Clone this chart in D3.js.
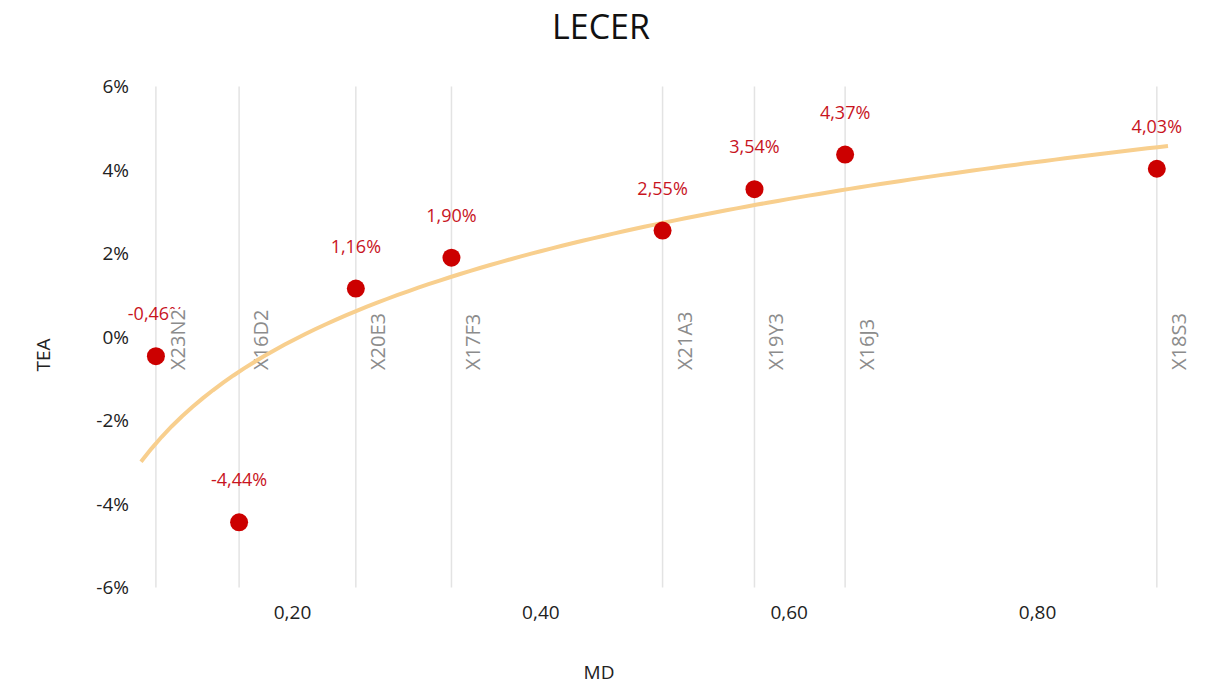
<!DOCTYPE html>
<html>
<head>
<meta charset="utf-8">
<script src="https://cdn.jsdelivr.net/npm/d3@7"></script>
<style>
  body { margin: 0; background: #fff; }
  text { font-family: "Open Sans", "Liberation Sans", sans-serif; }
</style>
</head>
<body>
<svg id="chart" width="1210" height="686"></svg>
<script>
// LECER scatter with log trendline

var names = ["X23N2", "X16D2", "X20E3", "X17F3", "X21A3", "X19Y3", "X16J3", "X18S3"];
var md = [0.090, 0.157, 0.251, 0.328, 0.498, 0.572, 0.645, 0.896];
var tea = [-0.46, -4.44, 1.16, 1.90, 2.55, 3.54, 4.37, 4.03];
var xTicks = [0.2, 0.4, 0.6, 0.8];
var yTicks = [-6, -4, -2, 0, 2, 4, 6];

var svg = d3.select("#chart"),
    margin = {top: 86.5, right: 42, bottom: 98.5, left: 141},
    width = 1210 - margin.left - margin.right,
    height = 686 - margin.top - margin.bottom,
    g = svg.append("g").attr("transform", "translate(" + margin.left + "," + margin.top + ")");

var x = d3.scaleLinear().domain([0.078, 0.905]).range([0, width]);
var y = d3.scaleLinear().domain([-6, 6]).range([height, 0]);

var data = names.map(function(n, i) { return {name: n, x: md[i], y: tea[i]}; });
var comma = function(v) { return d3.format(".2f")(v).replace(".", ",").replace("\u2212", "-"); };

// title
svg.append("text").attr("x", 601).attr("y", 39).attr("text-anchor", "middle")
    .attr("font-size", 34).attr("fill", "#111").text("LECER");

// vertical lines at each point
g.append("g").selectAll("line").data(data).enter().append("line")
    .attr("x1", function(d) { return x(d.x); }).attr("x2", function(d) { return x(d.x); })
    .attr("y1", 0).attr("y2", height)
    .attr("stroke", "#e3e3e3").attr("stroke-width", 1.5);

// y axis labels
g.append("g").selectAll("text").data(yTicks).enter().append("text")
    .attr("x", -12).attr("y", function(d) { return y(d); }).attr("dy", "0.35em")
    .attr("text-anchor", "end").attr("font-size", 19).attr("fill", "#222")
    .text(function(d) { return d + "%"; });

// x axis labels
g.append("g").selectAll("text").data(xTicks).enter().append("text")
    .attr("x", function(d) { return x(d); }).attr("y", height + 25).attr("dy", "0.35em")
    .attr("text-anchor", "middle").attr("font-size", 19).attr("fill", "#222")
    .text(function(d) { return comma(d); });

// axis titles
svg.append("text").attr("transform", "translate(50,355) rotate(-90)").attr("text-anchor", "middle")
    .attr("font-size", 19).attr("fill", "#222").text("TEA");
svg.append("text").attr("x", 599).attr("y", 679).attr("text-anchor", "middle")
    .attr("font-size", 19).attr("fill", "#222").text("MD");

// data labels
g.append("g").selectAll("text").data(data).enter().append("text")
    .attr("x", function(d) { return x(d.x); }).attr("y", function(d) { return y(d.y) - 36; })
    .attr("text-anchor", "middle").attr("font-size", 18).attr("fill", "#c8141e")
    .text(function(d) { return comma(d.y) + "%"; });

// category labels (rotated, white backing hides data labels underneath)
var cat = g.append("g").selectAll("g").data(data).enter().append("g")
    .attr("transform", function(d) { return "translate(" + (x(d.x) + 29) + "," + (y(0) + 33) + ") rotate(-90)"; });
var catText = cat.append("text").attr("x", 0).attr("y", 0).attr("font-size", 20).attr("fill", "#8c8c8c")
    .text(function(d) { return d.name; });
cat.insert("rect", "text").attr("x", 0).attr("y", -15)
    .attr("width", function() { return this.parentNode.querySelector("text").getComputedTextLength(); })
    .attr("height", 18).attr("fill", "#fff");

// log trendline, least squares on ln(x)
var lx = md.map(Math.log), mx = d3.mean(lx), my = d3.mean(tea);
var a = d3.sum(lx, function(v, i) { return (v - mx) * (tea[i] - my); }) / d3.sum(lx, function(v) { return (v - mx) * (v - mx); });
var b = my - a * mx;
var trend = d3.range(0, 101).map(function(i) {
    var xv = x.domain()[0] + (x.domain()[1] - x.domain()[0]) * i / 100;
    return [xv, a * Math.log(xv) + b];
});
g.append("path").datum(trend)
    .attr("d", d3.line().x(function(d) { return x(d[0]); }).y(function(d) { return y(d[1]); }))
    .attr("fill", "none").attr("stroke", "#f8cf8e").attr("stroke-width", 4);

// points
g.append("g").selectAll("circle").data(data).enter().append("circle")
    .attr("cx", function(d) { return x(d.x); }).attr("cy", function(d) { return y(d.y); })
    .attr("r", 9).attr("fill", "#cc0000");
</script>
</body>
</html>
